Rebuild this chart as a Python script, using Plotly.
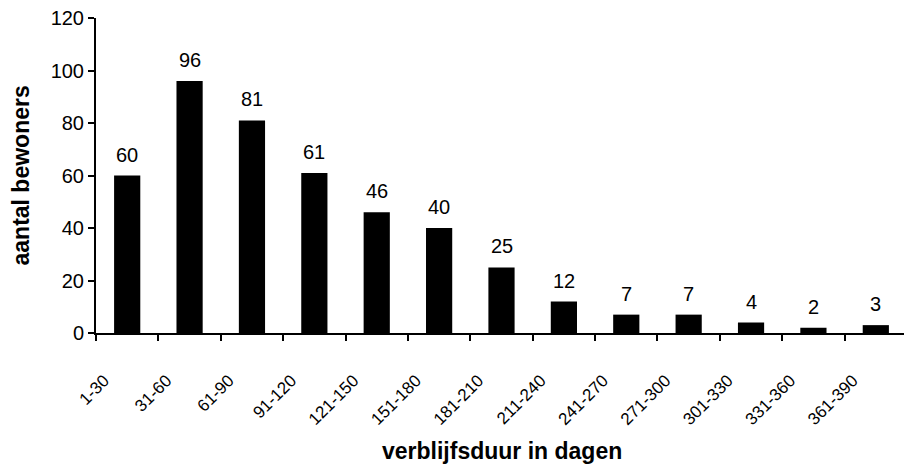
import plotly.graph_objects as go

categories = ["1-30", "31-60", "61-90", "91-120", "121-150", "151-180", "181-210",
              "211-240", "241-270", "271-300", "301-330", "331-360", "361-390"]
values = [60, 96, 81, 61, 46, 40, 25, 12, 7, 7, 4, 2, 3]
y_ticks = [0, 20, 40, 60, 80, 100, 120]

FONT = "Liberation Sans, Arial, sans-serif"

fig = go.Figure()
fig.add_trace(go.Bar(
    x=categories, y=values, width=0.42,
    marker=dict(color="black", line=dict(width=0)),
    showlegend=False,
))

for c, v in zip(categories, values):
    fig.add_annotation(x=c, y=v, text=str(v), showarrow=False,
                       yanchor="bottom", yshift=8,
                       font=dict(family=FONT, size=20, color="black"))

# axis titles
fig.add_annotation(x=0.5, y=0, xref="paper", yref="paper", text="<b>verblijfsduur in dagen</b>",
                   showarrow=False, yanchor="middle", yshift=-118,
                   font=dict(family=FONT, size=23, color="black"))
fig.add_annotation(x=0, y=0.5, xref="paper", yref="paper", text="<b>aantal bewoners</b>",
                   showarrow=False, xanchor="center", xshift=-76, textangle=-90,
                   font=dict(family=FONT, size=23, color="black"))

# page body has an 8px default margin, so the figure is sized to fit the window
fig.update_layout(
    width=904, height=457,
    margin=dict(l=88, r=5, t=10, b=132),
    paper_bgcolor="white", plot_bgcolor="white",
    font=dict(family=FONT, color="black"),
)
fig.update_xaxes(
    type="category", range=[-0.5, 12.5], automargin=False,
    showline=True, linecolor="black", linewidth=2,
    ticks="outside", tickson="boundaries", ticklen=6, tickwidth=2, tickcolor="black",
    tickangle=-45, tickfont=dict(family=FONT, size=17, color="black"),
    ticklabelstandoff=29, ticklabelshift=-23, ticklabeloverflow="allow",
    showgrid=False,
)
fig.update_yaxes(
    range=[0, 120], tickvals=y_ticks, automargin=False,
    showline=True, linecolor="black", linewidth=2,
    ticks="outside", ticklen=6, tickwidth=2, tickcolor="black",
    tickfont=dict(family=FONT, size=20, color="black"), ticklabeloverflow="allow",
    showgrid=False, zeroline=False,
)

fig.write_html("out.html")
